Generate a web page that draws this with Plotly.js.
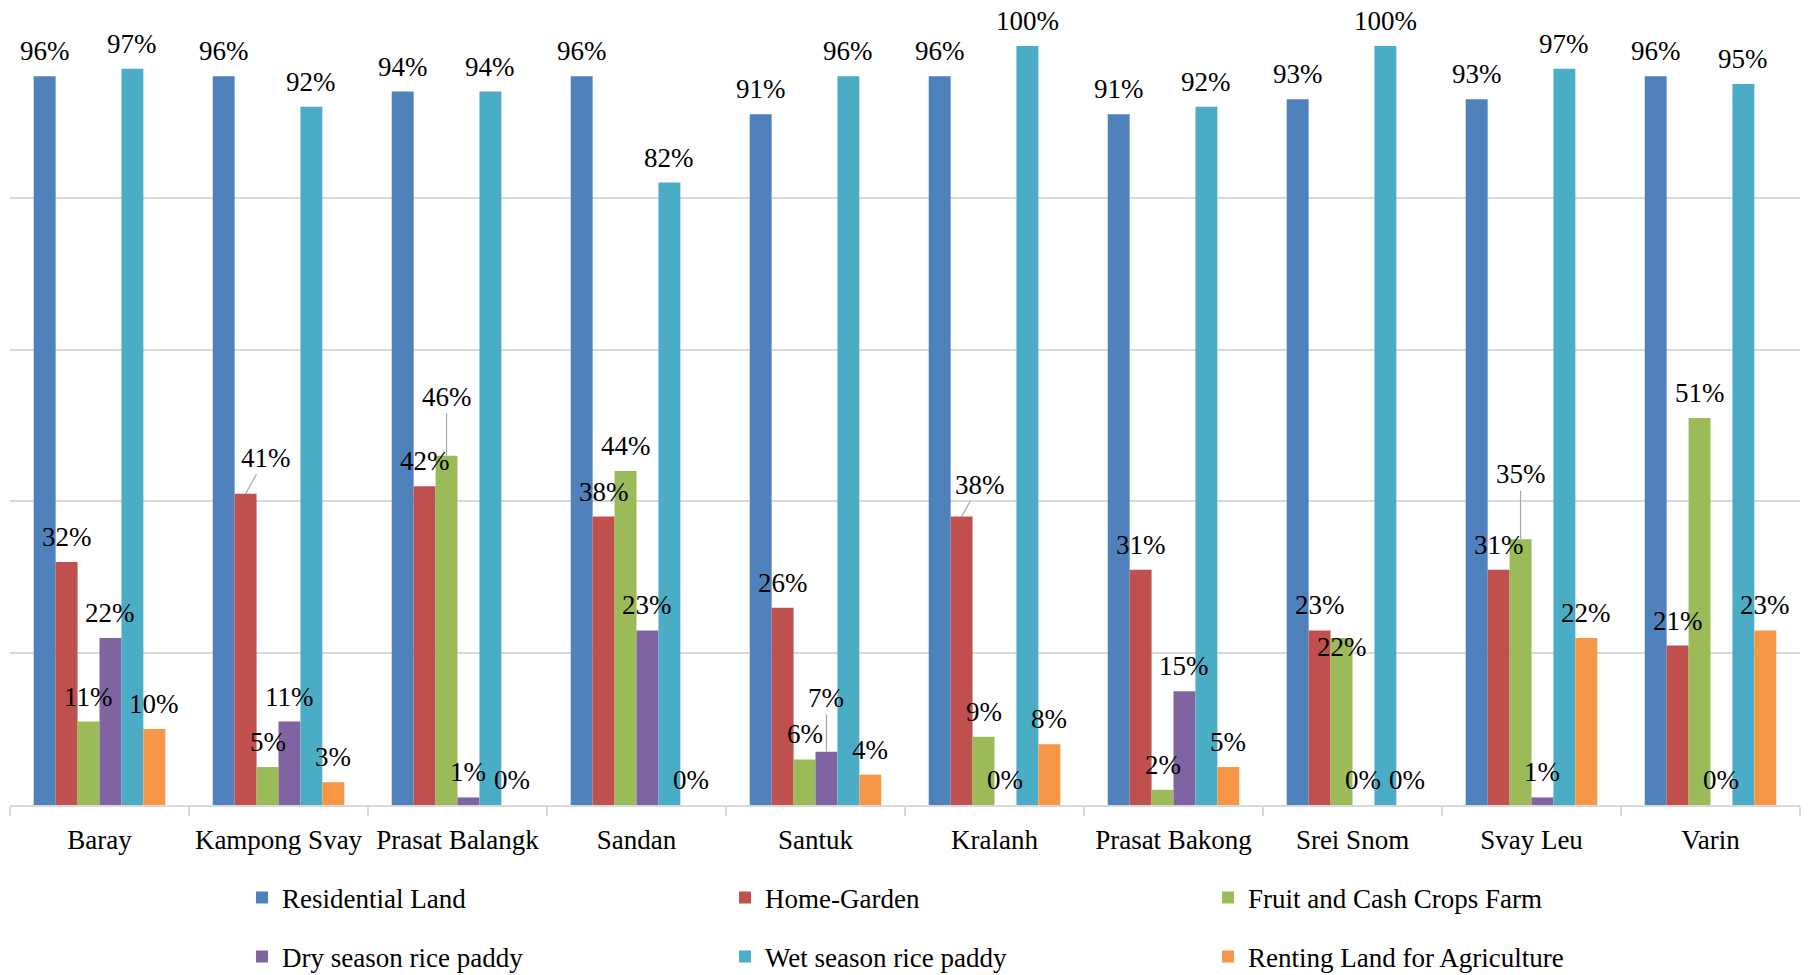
<!DOCTYPE html>
<html>
<head>
<meta charset="utf-8">
<script src="https://cdn.plot.ly/plotly-3.0.1.min.js"></script>
<style>html,body{margin:0;padding:0;background:#fff;}#chart{width:1813px;height:975px;}</style>
</head>
<body>
<div id="chart"></div>
<script>
const categories = ['Baray','Kampong Svay','Prasat Balangk','Sandan','Santuk','Kralanh','Prasat Bakong','Srei Snom','Svay Leu','Varin'];
const residentialLand = [96,96,94,96,91,96,91,93,93,96];
const homeGarden      = [32,41,42,38,26,38,31,23,31,21];
const fruitCashCrops  = [11,5,46,44,6,9,2,22,35,51];
const drySeasonPaddy  = [22,11,1,23,7,0,15,0,1,0];
const wetSeasonPaddy  = [97,92,94,82,96,100,92,100,97,95];
const rentingLand     = [10,3,0,0,4,8,5,0,22,23];
const seriesNames = ['Residential Land','Home-Garden','Fruit and Cash Crops Farm','Dry season rice paddy','Wet season rice paddy','Renting Land for Agriculture'];
const seriesValues = [residentialLand, homeGarden, fruitCashCrops, drySeasonPaddy, wetSeasonPaddy, rentingLand];
const colors = ['#4F81BD','#C0504D','#9BBB59','#8064A2','#4BACC6','#F79646'];

// label placement styles (pixel offsets of label centre from bar top)
const labelStyle = {
  '1|1': {dx: 20, dy: -36, line: true},
  '2|2': {dx: 0, dy: -59, line: true},
  '3|4': {dx: 0, dy: -54, line: true},
  '1|5': {dx: 18, dy: -32, line: true},
  '2|8': {dx: 0, dy: -65, line: true},
  '2|7': {dx: 0, dy: 9, line: false}
};
const FONT = 'Liberation Serif, Times New Roman, serif';
const FS = 27;
const BARGAP = 0.265;
const nS = seriesNames.length;

const traces = seriesNames.map((name, s) => ({
  type: 'bar',
  name: name,
  x: categories,
  y: seriesValues[s],
  marker: {color: colors[s]},
  legend: s < 3 ? 'legend' : 'legend2',
  hoverinfo: 'x+y+name'
}));

const annotations = [];
seriesValues.forEach((vals, s) => {
  vals.forEach((v, c) => {
    const xpos = c - (1 - BARGAP) / 2 + (s + 0.5) * (1 - BARGAP) / nS;
    const st = labelStyle[s + '|' + c] || {dx: 0, dy: -25, line: false};
    const a = {
      x: xpos, y: v, xref: 'x', yref: 'y',
      text: v + '%',
      font: {family: FONT, size: FS, color: '#000'},
      xanchor: 'center', yanchor: 'middle'
    };
    if (st.line) {
      a.showarrow = true; a.arrowhead = 0; a.arrowwidth = 1.2; a.arrowcolor = '#a6a6a6';
      a.ax = st.dx; a.ay = st.dy; a.standoff = 0;
    } else {
      a.showarrow = false; a.xshift = st.dx; a.yshift = -st.dy;
    }
    annotations.push(a);
  });
});

const legendBase = {
  orientation: 'h', xref: 'container', yref: 'container',
  x: 0.1335, xanchor: 'left', yanchor: 'middle',
  entrywidth: 438, entrywidthmode: 'pixels',
  font: {family: FONT, size: FS, color: '#000'}, bgcolor: 'rgba(0,0,0,0)'
};

const layout = {
  width: 1813, height: 975,
  margin: {l: 10, r: 13, t: 46, b: 170},
  paper_bgcolor: '#fff', plot_bgcolor: '#fff',
  barmode: 'group', bargap: BARGAP, bargroupgap: 0,
  font: {family: FONT, size: FS, color: '#000'},
  xaxis: {
    type: 'category', showgrid: false, zeroline: false,
    showline: true, linecolor: '#d9d9d9', linewidth: 2,
    ticks: 'outside', tickson: 'boundaries', ticklen: 9, tickwidth: 2, tickcolor: '#d9d9d9',
    ticklabelstandoff: 10,
    tickfont: {family: FONT, size: FS, color: '#000'}
  },
  yaxis: {
    range: [0, 100], dtick: 20, showticklabels: false, ticks: '',
    showgrid: true, gridcolor: '#d9d9d9', gridwidth: 2,
    zeroline: false, showline: false
  },
  legend: Object.assign({}, legendBase, {y: 1 - 898/975}),
  legend2: Object.assign({}, legendBase, {y: 1 - 957/975}),
  annotations: annotations,
  showlegend: true
};

Plotly.newPlot('chart', traces, layout, {displayModeBar: false, staticPlot: true});
</script>
</body>
</html>
